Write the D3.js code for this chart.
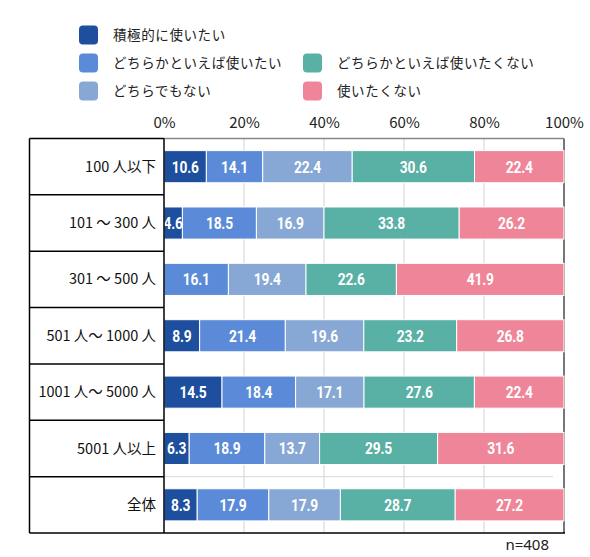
<!DOCTYPE html>
<html><head><meta charset="utf-8">
<script src="https://cdn.jsdelivr.net/npm/d3@7"></script>
<style>
body{margin:0;background:#fff;}
svg{display:block;}
</style></head>
<body>
<svg id="chart" width="590" height="557"></svg>
<script>
const categories = ["100 人以下","101 ～ 300 人","301 ～ 500 人","501 人～ 1000 人","1001 人～ 5000 人","5001 人以上","全体"];
const seriesNames = ["積極的に使いたい","どちらかといえば使いたい","どちらでもない","どちらかといえば使いたくない","使いたくない"];
const seriesColors = ["#1d4f9e","#5b8bd8","#87a8d4","#59b0a5","#ef8599"];
const s1 = [10.6, 4.6, 0, 8.9, 14.5, 6.3, 8.3];
const s2 = [14.1, 18.5, 16.1, 21.4, 18.4, 18.9, 17.9];
const s3 = [22.4, 16.9, 19.4, 19.6, 17.1, 13.7, 17.9];
const s4 = [30.6, 33.8, 22.6, 23.2, 27.6, 29.5, 28.7];
const s5 = [22.4, 26.2, 41.9, 26.8, 22.4, 31.6, 27.2];
const tickValues = [0,20,40,60,80,100];
const note = "n=408";

(function(){
const seriesVals = [s1,s2,s3,s4,s5];
const rows = categories.map((c,i)=>{
  const o = {cat:c};
  seriesVals.forEach((s,k)=>o["k"+k]=s[i]);
  return o;
});
const keys = seriesVals.map((s,k)=>"k"+k);
const stacked = d3.stack().keys(keys).offset(d3.stackOffsetExpand)(rows);

const svg = d3.select("#chart");
const pL = 164, pR = 564, pT = 138.5, pB = 533, tableLeft = 29.5;
const x = d3.scaleLinear().domain([0,1]).range([pL,pR]);
const y = d3.scaleBand().domain(categories).range([pT,pB]).paddingInner(0.43).paddingOuter(0.215);
const yRow = d3.scaleBand().domain(categories).range([pT,pB]);

svg.append("g").selectAll("line").data(tickValues.slice(1,5)).join("line")
  .attr("x1",d=>x(d/100)).attr("x2",d=>x(d/100)).attr("y1",pT).attr("y2",pB)
  .attr("stroke","#e2e2e2").attr("stroke-width",1.5);
const lastCat = categories[categories.length-1];
svg.append("line").attr("x1",pL).attr("x2",553)
  .attr("y1",yRow(lastCat)).attr("y2",yRow(lastCat))
  .attr("stroke","#d9d9d9").attr("stroke-width",1);

const axis = d3.axisTop(x).tickValues(tickValues.map(v=>v/100)).tickFormat(d=>Math.round(d*100)+"%").tickSize(0).tickPadding(0);
const ag = svg.append("g").attr("transform","translate(0,123)").call(axis);
ag.select(".domain").remove();
ag.selectAll("text").attr("font-family","'Noto Sans CJK JP','Noto Sans',sans-serif").attr("font-size",15).attr("fill","#222").attr("dy","0.35em");

svg.append("line").attr("x1",pL).attr("x2",pR).attr("y1",pT).attr("y2",pT).attr("stroke","#888").attr("stroke-width",1.5);
svg.append("line").attr("x1",pR).attr("x2",pR).attr("y1",pT).attr("y2",pB).attr("stroke","#777").attr("stroke-width",2);

const g = svg.append("g");
stacked.forEach((layer,k)=>{
  g.append("g").selectAll("rect").data(layer).join("rect")
    .attr("x",d=>x(d[0])).attr("width",d=>Math.max(0,x(d[1])-x(d[0])))
    .attr("y",d=>y(d.data.cat)).attr("height",y.bandwidth())
    .attr("fill",seriesColors[k]).attr("stroke","#fff").attr("stroke-width",1);
});
stacked.forEach((layer,k)=>{
  g.append("g").selectAll("text").data(layer.filter(d=>d.data["k"+k]>0)).join("text")
    .attr("transform",d=>`translate(${(x(d[0])+x(d[1]))/2},${y(d.data.cat)+y.bandwidth()/2}) scale(0.92,1.08)`)
    .attr("dy","0.36em").attr("text-anchor","middle")
    .attr("font-family","Roboto,'Liberation Sans',sans-serif").attr("font-weight",700)
    .attr("font-size",15).attr("fill","#fff").attr("letter-spacing","-0.2")
    .text(d=>d.data["k"+k].toFixed(1));
});

const tg = svg.append("g");
tg.append("line").attr("x1",tableLeft).attr("x2",pL).attr("y1",pT).attr("y2",pT).attr("stroke","#000").attr("stroke-width",1.5);
tg.append("line").attr("x1",tableLeft).attr("x2",tableLeft).attr("y1",pT).attr("y2",pB).attr("stroke","#000").attr("stroke-width",1.5);
tg.append("line").attr("x1",pL).attr("x2",pL).attr("y1",pT).attr("y2",pB).attr("stroke","#000").attr("stroke-width",1.5);
tg.selectAll("line.sep").data(categories.slice(1)).join("line").attr("class","sep")
  .attr("x1",tableLeft).attr("x2",pL).attr("y1",d=>yRow(d)).attr("y2",d=>yRow(d))
  .attr("stroke","#000").attr("stroke-width",1.5);
tg.append("line").attr("x1",tableLeft).attr("x2",pR+1).attr("y1",pB).attr("y2",pB).attr("stroke","#000").attr("stroke-width",1.5);
tg.selectAll("text").data(categories).join("text")
  .attr("x",156).attr("y",d=>yRow(d)+yRow.bandwidth()/2).attr("dy","0.35em")
  .attr("text-anchor","end").attr("font-family","'Noto Sans CJK JP',sans-serif")
  .attr("font-size",14.5).attr("fill","#111").text(d=>d);

const legendPos = [[79,35],[79,63],[79,91],[303,63],[303,91]];
const lg = svg.append("g");
seriesNames.forEach((n,k)=>{
  const [lx,ly] = legendPos[k];
  lg.append("rect").attr("x",lx).attr("y",ly-9.5).attr("width",19).attr("height",19).attr("rx",4)
    .attr("fill",seriesColors[k]);
  lg.append("text").attr("x",lx+34).attr("y",ly).attr("dy","0.35em")
    .attr("font-family","'Noto Sans CJK JP',sans-serif").attr("font-size",13.5)
    .attr("letter-spacing","0.6").attr("fill","#222").text(n);
});

svg.append("text").attr("x",549).attr("y",545).attr("dy","0.35em").attr("text-anchor","end")
  .attr("font-family","'Noto Sans','Noto Sans CJK JP',sans-serif").attr("font-size",15).attr("fill","#222").text(note);
})();
</script>
</body></html>
